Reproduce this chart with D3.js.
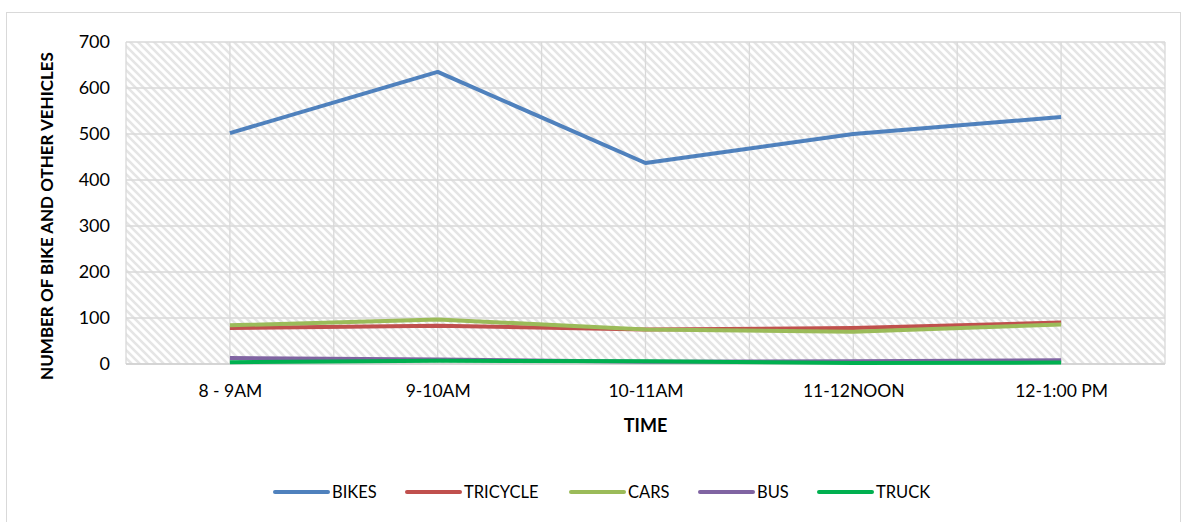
<!DOCTYPE html>
<html lang="en">
<head>
  <meta charset="UTF-8" />
  <title>Vehicles by time</title>
  <style>
    body { margin: 0; background: #fff; font-family: Lato, "Open Sans", sans-serif; }
    svg text { fill: #000; }
  </style>
</head>
<body>
  <div id="chart"></div>
  <script src="https://cdnjs.cloudflare.com/ajax/libs/d3/7.8.4/d3.min.js"></script>
  <script>
    // data
    const times = ["8 - 9AM", "9-10AM", "10-11AM", "11-12NOON", "12-1:00 PM"];
    const bikes = [502, 635, 437, 500, 537];
    const tricycle = [78, 83, 75, 78, 90];
    const cars = [84, 97, 75, 70, 86];
    const bus = [13, 10, 5, 6, 8];
    const truck = [4, 7, 6, 2, 3];
    const yTicks = [0, 100, 200, 300, 400, 500, 600, 700];

    const series = [
      { name: "BIKES", values: bikes, color: "#4f81bd" },
      { name: "TRICYCLE", values: tricycle, color: "#c0504d" },
      { name: "CARS", values: cars, color: "#9bbb59" },
      { name: "BUS", values: bus, color: "#8064a2" },
      { name: "TRUCK", values: truck, color: "#00b050" }
    ];

    const width = 1186, height = 522;
    const plot = { left: 126, right: 1165, top: 42, bottom: 364 };

    const svg = d3.select("#chart").append("svg").attr("width", width).attr("height", height);

    // hatch pattern for the plot background
    const pat = svg.append("defs").append("pattern")
      .attr("id", "hatch").attr("patternUnits", "userSpaceOnUse")
      .attr("width", 8).attr("height", 8);
    pat.append("rect").attr("width", 8).attr("height", 8).attr("fill", "#fff");
    pat.append("path").attr("d", "M-2,-2 L10,10 M-2,6 L2,10 M6,-2 L10,2")
      .attr("stroke", "#e5e5e5").attr("stroke-width", 2.6);

    // chart border
    svg.append("rect").attr("x", 6.5).attr("y", 12.5).attr("width", 1174).attr("height", 520)
      .attr("fill", "none").attr("stroke", "#d9d9d9");

    const x = d3.scalePoint().domain(times).range([plot.left, plot.right]).padding(0.5);
    const y = d3.scaleLinear().domain([0, 700]).range([plot.bottom, plot.top]);
    const step = x.step();

    svg.append("rect").attr("x", plot.left).attr("y", plot.top)
      .attr("width", plot.right - plot.left).attr("height", plot.bottom - plot.top)
      .attr("fill", "url(#hatch)");

    // gridlines
    const grid = svg.append("g").attr("stroke", "#d9d9d9").attr("stroke-width", 1.3);
    yTicks.forEach(t => {
      grid.append("line").attr("x1", plot.left).attr("x2", plot.right)
        .attr("y1", y(t)).attr("y2", y(t));
    });
    d3.range(0, times.length * 2 + 1).forEach(i => {
      const xv = plot.left + i * step / 2;
      grid.append("line").attr("x1", xv).attr("x2", xv)
        .attr("y1", plot.top).attr("y2", plot.bottom);
    });
    svg.append("line").attr("x1", plot.left).attr("x2", plot.right)
      .attr("y1", plot.bottom).attr("y2", plot.bottom)
      .attr("stroke", "#d0d0d0").attr("stroke-width", 1.5);

    // y axis
    const yAxis = svg.append("g").attr("transform", `translate(${plot.left - 2},0)`)
      .call(d3.axisLeft(y).tickValues(yTicks).tickSize(0).tickPadding(14));
    yAxis.select(".domain").remove();
    yAxis.selectAll("text").attr("font-size", 18).attr("font-family", "Lato, sans-serif").attr("fill", "#000");

    // x axis
    const xAxis = svg.append("g").attr("transform", `translate(0,${plot.bottom})`)
      .call(d3.axisBottom(x).tickSize(0).tickPadding(21));
    xAxis.select(".domain").remove();
    xAxis.selectAll("text").attr("font-size", 17.5).attr("font-family", "Lato, sans-serif").attr("fill", "#000");

    // axis titles
    svg.append("text").attr("x", x(times[2])).attr("y", 432)
      .attr("text-anchor", "middle").attr("font-size", 18).attr("font-weight", "bold")
      .text("TIME");
    svg.append("text").attr("transform", "translate(53,216) rotate(-90)")
      .attr("text-anchor", "middle").attr("font-size", 17).attr("font-weight", "bold")
      .text("NUMBER OF BIKE AND OTHER VEHICLES");

    // lines
    const line = d3.line().x((d, i) => x(times[i])).y(d => y(d));
    svg.append("g").selectAll("path").data(series).enter().append("path")
      .attr("d", d => line(d.values))
      .attr("fill", "none").attr("stroke", d => d.color)
      .attr("stroke-width", 4).attr("stroke-linejoin", "round");

    // legend
    const legendX = [275, 407, 571, 700, 819];
    const legend = svg.append("g").selectAll("g").data(series).enter().append("g")
      .attr("transform", (d, i) => `translate(${legendX[i]},492)`);
    legend.append("line").attr("x1", 0).attr("x2", 53)
      .attr("stroke", d => d.color).attr("stroke-width", 4).attr("stroke-linecap", "round");
    legend.append("text").attr("x", 57).attr("y", 6).attr("font-size", 16.5)
      .text(d => d.name);
  </script>
</body>
</html>
